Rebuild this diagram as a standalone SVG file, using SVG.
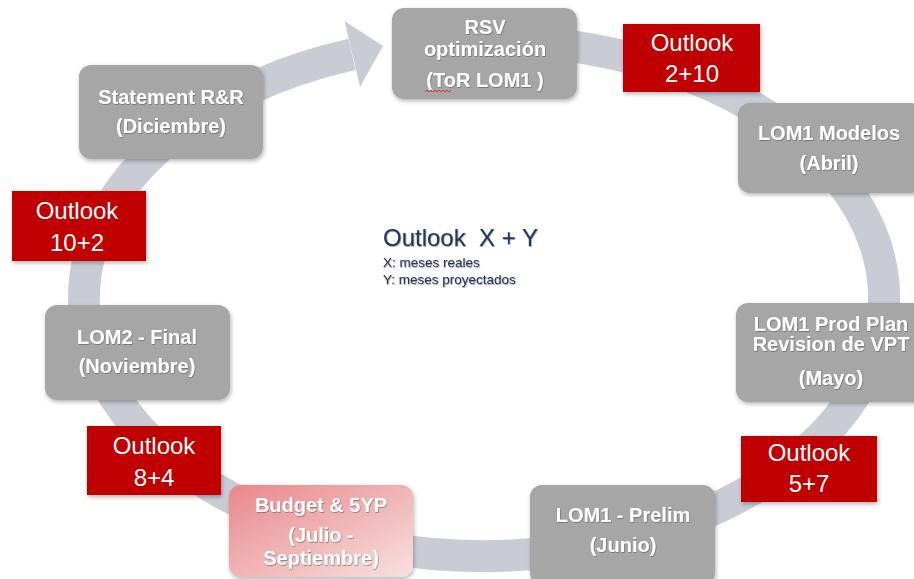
<svg xmlns="http://www.w3.org/2000/svg" width="914" height="579" viewBox="0 0 914 579">
  <defs>
    <filter id="shadow" x="-10%" y="-10%" width="125%" height="130%">
      <feDropShadow dx="1" dy="2" stdDeviation="2" flood-color="#000" flood-opacity="0.3"/>
    </filter>
    <filter id="txtShadow" x="-5%" y="-20%" width="110%" height="150%">
      <feDropShadow dx="0.6" dy="0.8" stdDeviation="0.5" flood-color="#444" flood-opacity="0.6"/>
    </filter>
    <linearGradient id="budgetFill" x1="0" y1="0" x2="1" y2="1">
      <stop offset="0" stop-color="#e8878a"/>
      <stop offset="1" stop-color="#f8e0e0"/>
    </linearGradient>
    <style>
      .step { fill: #a6a6a6; filter: url(#shadow); }
      .outlook { fill: #c00000; filter: url(#shadow); }
      .stepTxt { font-family: "Liberation Sans", Arial, sans-serif; font-weight: bold; font-size: 20px; fill: #ffffff; text-anchor: middle; dominant-baseline: central; filter: url(#txtShadow); }
      .outTxt { font-family: "Liberation Sans", Arial, sans-serif; font-size: 24px; fill: #ffffff; text-anchor: middle; dominant-baseline: central; }
      .legend { font-family: "Liberation Sans", Arial, sans-serif; fill: #1f3864; filter: url(#txtShadow); }
    </style>
  </defs>

  <!-- circular cycle arrow -->
  <g id="connectors">
    <path d="M 400 45.7 A 400 258 0 1 1 352 54.4" fill="none" stroke="#c9ccd5" stroke-width="32"/>
    <polygon points="344.5,21 383,46 360,87" fill="#c9ccd5"/>
  </g>

  <g id="rsv">
    <rect class="step" x="392" y="8" width="185" height="91" rx="12"/>
    <text class="stepTxt" x="485" y="27">RSV</text>
    <text class="stepTxt" x="485" y="49">optimización</text>
    <text class="stepTxt" x="485" y="80">(ToR LOM1 )</text>
    <path d="M 425 92 l 2 -2 l 2 2 l 2 -2 l 2 2 l 2 -2 l 2 2 l 2 -2 l 2 2 l 2 -2 l 2 2 l 2 -2 l 2 2 l 2 -2" fill="none" stroke="#e03030" stroke-width="1"/>
  </g>

  <g id="outlook-2-10">
    <rect class="outlook" x="623" y="24" width="137" height="68"/>
    <text class="outTxt" x="692" y="42">Outlook</text>
    <text class="outTxt" x="692" y="73">2+10</text>
  </g>

  <g id="lom1-modelos">
    <rect class="step" x="738" y="103" width="186" height="90" rx="12"/>
    <text class="stepTxt" x="829" y="133">LOM1 Modelos</text>
    <text class="stepTxt" x="829" y="163">(Abril)</text>
  </g>

  <g id="lom1-prod-plan">
    <rect class="step" x="736" y="303" width="190" height="99" rx="12"/>
    <text class="stepTxt" x="831" y="324">LOM1 Prod Plan</text>
    <text class="stepTxt" x="831" y="344">Revision de VPT</text>
    <text class="stepTxt" x="831" y="378">(Mayo)</text>
  </g>

  <g id="outlook-5-7">
    <rect class="outlook" x="741" y="436" width="136" height="66"/>
    <text class="outTxt" x="809" y="452">Outlook</text>
    <text class="outTxt" x="809" y="483">5+7</text>
  </g>

  <g id="lom1-prelim">
    <rect class="step" x="530" y="485" width="185" height="100" rx="12"/>
    <text class="stepTxt" x="623" y="515">LOM1 - Prelim</text>
    <text class="stepTxt" x="623" y="545">(Junio)</text>
  </g>

  <g id="budget">
    <rect x="229" y="485" width="184" height="92" rx="12" fill="url(#budgetFill)" filter="url(#shadow)"/>
    <text class="stepTxt" x="321" y="505">Budget &amp; 5YP</text>
    <text class="stepTxt" x="321" y="535">(Julio -</text>
    <text class="stepTxt" x="321" y="558">Septiembre)</text>
  </g>

  <g id="outlook-8-4">
    <rect class="outlook" x="87" y="426" width="134" height="69"/>
    <text class="outTxt" x="154" y="445">Outlook</text>
    <text class="outTxt" x="154" y="477">8+4</text>
  </g>

  <g id="lom2-final">
    <rect class="step" x="45" y="305" width="185" height="95" rx="12"/>
    <text class="stepTxt" x="137" y="337">LOM2 - Final</text>
    <text class="stepTxt" x="137" y="366">(Noviembre)</text>
  </g>

  <g id="outlook-10-2">
    <rect class="outlook" x="12" y="191" width="134" height="70"/>
    <text class="outTxt" x="77" y="210">Outlook</text>
    <text class="outTxt" x="77" y="242">10+2</text>
  </g>

  <g id="statement">
    <rect class="step" x="79" y="65" width="184" height="94" rx="12"/>
    <text class="stepTxt" x="171" y="97">Statement R&amp;R</text>
    <text class="stepTxt" x="171" y="126">(Diciembre)</text>
  </g>

  <g id="legend">
    <text class="legend" x="383" y="246" font-size="24" xml:space="preserve">Outlook  X + Y</text>
    <text class="legend" x="383" y="267" font-size="13.5">X: meses reales</text>
    <text class="legend" x="383" y="284" font-size="13.5">Y: meses proyectados</text>
  </g>
</svg>
